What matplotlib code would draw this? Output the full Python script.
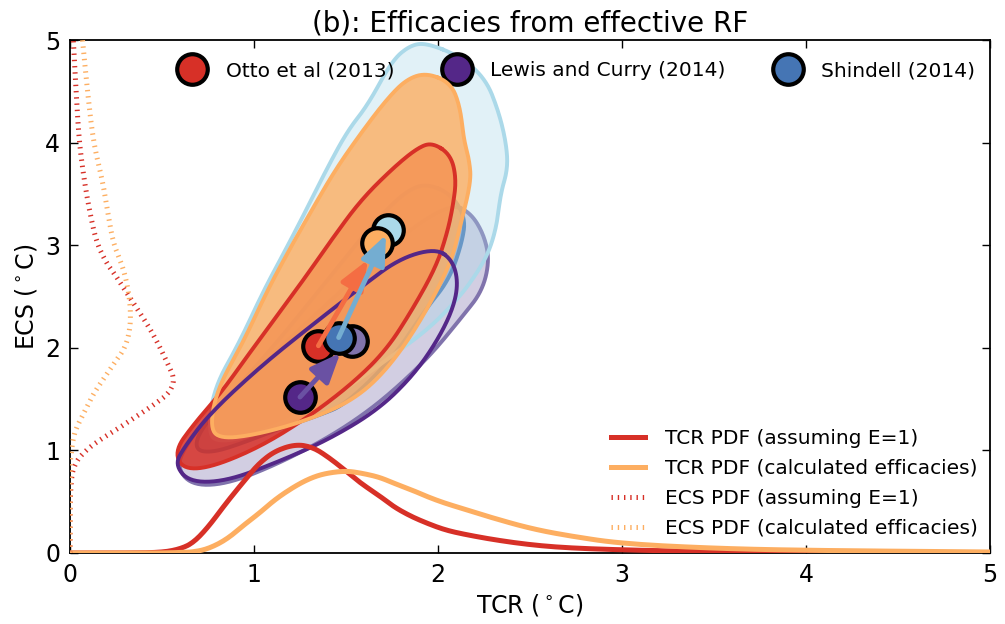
import numpy as np
import matplotlib
matplotlib.use("Agg")
from matplotlib import pyplot as plt
from matplotlib.lines import Line2D

plt.rcParams['lines.scale_dashes'] = False
plt.rcParams['font.family'] = ['DejaVu Sans']

# 66% region outlines, (TCR, ECS) pairs
otto_e1 = [(1.97, 4.0), (2.07, 3.88), (2.1, 3.64), (2.08, 3.37), (2.05, 3.12), (1.99, 2.79),
           (1.86, 2.37), (1.72, 1.98), (1.54, 1.66), (1.3, 1.33), (1.03, 1.03), (0.76, 0.83),
           (0.61, 0.82), (0.57, 1.0), (0.67, 1.25), (0.82, 1.56), (0.96, 1.91), (1.12, 2.3),
           (1.28, 2.69), (1.42, 3.05), (1.58, 3.44), (1.76, 3.76), (1.89, 3.95)]
otto_calc = [(1.94, 4.68), (2.07, 4.58), (2.12, 4.35), (2.14, 4.03), (2.17, 3.83), (2.18, 3.62),
             (2.12, 3.18), (2.07, 2.82), (1.9, 2.24), (1.72, 1.78), (1.54, 1.49), (1.3, 1.3),
             (1.03, 1.16), (0.82, 1.11), (0.76, 1.22), (0.8, 1.6), (0.94, 2.05), (1.07, 2.55),
             (1.19, 2.95), (1.31, 3.33), (1.44, 3.73), (1.58, 4.09), (1.72, 4.42), (1.83, 4.62)]
lewis_e1 = [(1.99, 2.97), (2.08, 2.85), (2.11, 2.63), (2.08, 2.37), (1.99, 2.05), (1.86, 1.72),
            (1.67, 1.39), (1.40, 1.10), (1.12, 0.88), (0.85, 0.70), (0.65, 0.69), (0.57, 0.86),
            (0.62, 1.03), (0.76, 1.36), (1.03, 1.81), (1.30, 2.20), (1.58, 2.59), (1.79, 2.87)]
lewis_calc = [(2.08, 3.40), (2.18, 3.31), (2.25, 3.1), (2.28, 2.85), (2.24, 2.55), (2.13, 2.3),
              (1.97, 1.95), (1.80, 1.65), (1.62, 1.38), (1.40, 1.12), (1.12, 0.86), (0.85, 0.67),
              (0.66, 0.66), (0.58, 0.84), (0.63, 1.05), (0.78, 1.4), (1.05, 1.85), (1.35, 2.35),
              (1.62, 2.8), (1.88, 3.2)]
shindell_e1 = [(1.94, 3.6), (2.07, 3.5), (2.15, 3.27), (2.13, 3.02), (2.06, 2.66), (1.93, 2.37),
               (1.76, 1.91), (1.5, 1.45), (1.35, 1.34), (1.15, 1.22), (0.95, 1.08), (0.78, 0.98),
               (0.68, 1.0), (0.7, 1.18), (0.86, 1.52), (1.1, 2.0), (1.35, 2.55), (1.55, 3.0),
               (1.72, 3.35), (1.84, 3.54)]
shindell_calc = [(1.94, 4.97), (2.12, 4.84), (2.26, 4.62), (2.33, 4.3), (2.37, 4.0), (2.38, 3.75),
                 (2.34, 3.5), (2.32, 3.2), (2.28, 2.95), (2.22, 2.75), (2.12, 2.5), (1.96, 2.2),
                 (1.75, 1.92), (1.5, 1.6), (1.25, 1.35), (1.0, 1.15), (0.82, 1.08), (0.75, 1.15),
                 (0.78, 1.6), (0.92, 2.05), (1.05, 2.55), (1.17, 2.95), (1.28, 3.33), (1.40, 3.76),
                 (1.51, 4.12), (1.62, 4.37), (1.75, 4.8), (1.85, 4.95)]

# best estimates
names = ['Otto et al (2013)', 'Lewis and Curry (2014)', 'Shindell (2014)']
tcr_e1 = [1.35, 1.25, 1.46]
ecs_e1 = [2.02, 1.52, 2.10]
tcr_calc = [1.67, 1.53, 1.73]
ecs_calc = [3.02, 2.07, 3.15]

# marginal PDFs
tcr_grid = [0, 0.3, 0.5, 0.6, 0.67, 0.75, 0.85, 0.95, 1.03, 1.12, 1.23, 1.32, 1.40, 1.50, 1.58,
            1.68, 1.76, 1.85, 1.94, 2.03, 2.12, 2.3, 2.5, 2.7, 3.0, 3.5, 4.0, 5.0]
tcr_pdf_e1 = [0, 0, 0.005, 0.04, 0.10, 0.25, 0.49, 0.71, 0.88, 1.0, 1.06, 1.03, 0.94, 0.80, 0.68,
              0.56, 0.45, 0.36, 0.29, 0.23, 0.19, 0.13, 0.08, 0.05, 0.03, 0.012, 0.005, 0.0]
tcr_pdf_calc = [0, 0, 0, 0.005, 0.01, 0.04, 0.13, 0.28, 0.39, 0.53, 0.66, 0.74, 0.78, 0.80, 0.78,
                0.74, 0.68, 0.62, 0.55, 0.49, 0.44, 0.34, 0.24, 0.17, 0.09, 0.045, 0.025, 0.01]
ecs_grid = [0, 0.5, 0.78, 0.87, 0.94, 1.02, 1.10, 1.2, 1.33, 1.45, 1.56, 1.69, 1.85, 2.0, 2.17,
            2.34, 2.53, 2.7, 2.82, 3.02, 3.3, 3.6, 4.0, 4.5, 5.0]
ecs_pdf_e1 = [0, 0, 0.01, 0.03, 0.054, 0.10, 0.16, 0.25, 0.36, 0.46, 0.54, 0.57, 0.53, 0.49, 0.44,
              0.38, 0.31, 0.25, 0.2, 0.145, 0.11, 0.08, 0.05, 0.033, 0.018]
ecs_pdf_calc = [0, 0, 0, 0, 0.005, 0.01, 0.016, 0.03, 0.065, 0.10, 0.13, 0.18, 0.24, 0.30, 0.325,
                0.33, 0.32, 0.30, 0.28, 0.235, 0.207, 0.18, 0.127, 0.095, 0.068]

red, orange = '#d73027', '#fdae61'
purple, lpurple = '#542788', '#8073ac'
blue, lblue = '#4575b4', '#abd9e9'
dots = (0, (1, 3.5))


def smooth(pts, n=4, closed=True):
    # chaikin corner cutting
    p = np.asarray(pts, float)
    for _ in range(n):
        if closed:
            q = np.roll(p, -1, axis=0)
            p = np.column_stack([0.75 * p + 0.25 * q, 0.25 * p + 0.75 * q]).reshape(-1, 2)
        else:
            a, b = p[:-1], p[1:]
            mid = np.column_stack([0.75 * a + 0.25 * b, 0.25 * a + 0.75 * b]).reshape(-1, 2)
            p = np.vstack([p[:1], mid, p[-1:]])
    if closed:
        p = np.vstack([p, p[:1]])
    return p


fig = plt.figure(figsize=(10.05, 6.24), dpi=100)
ax = fig.add_axes([70 / 1005, 71 / 624, 920 / 1005, 513 / 624])


def region(pts, col, alpha, lw, z, fill=True, line=True):
    s = smooth(pts)
    if fill:
        ax.fill(s[:, 0], s[:, 1], color=col, alpha=alpha, lw=0, zorder=z)
    if line:
        ax.plot(s[:, 0], s[:, 1], color=col, lw=lw, zorder=z + 0.1)


region(lewis_calc, lpurple, 0.35, 2.8, 1)
region(shindell_e1, blue, 0.4, 2.8, 2)
region(shindell_calc, lblue, 0.35, 2.8, 3)
region(otto_e1, red, 0.85, 2.8, 4, line=False)
region(otto_calc, orange, 0.8, 2.8, 5, line=False)
region(otto_e1, red, 0, 2.8, 6, fill=False)
region(otto_calc, orange, 0, 2.8, 6, fill=False)
region(lewis_e1, purple, 0, 2.8, 7, fill=False)

# PDFs
for xs, ys, c, ls in [(tcr_grid, tcr_pdf_e1, red, '-'), (tcr_grid, tcr_pdf_calc, orange, '-'),
                      (ecs_pdf_e1, ecs_grid, red, dots), (ecs_pdf_calc, ecs_grid, orange, dots)]:
    s = smooth(list(zip(xs, ys)), n=3, closed=False)
    ax.plot(s[:, 0], s[:, 1], color=c, lw=3.6, ls=ls, zorder=8)

# best estimate markers
e1_cols = [red, purple, blue]
calc_cols = [orange, lpurple, lblue]
mk = dict(ms=22, mec='k', mew=3, ls='')
for i in [0, 1]:
    ax.plot(tcr_e1[i], ecs_e1[i], 'o', mfc=e1_cols[i], zorder=10, **mk)
ax.plot(tcr_calc[1], ecs_calc[1], 'o', mfc=calc_cols[1], zorder=10, **mk)
ax.plot(tcr_e1[2], ecs_e1[2], 'o', mfc=e1_cols[2], zorder=10.5, **mk)
ax.plot(tcr_calc[2], ecs_calc[2], 'o', mfc=calc_cols[2], zorder=10, **mk)
ax.plot(tcr_calc[0], ecs_calc[0], 'o', mfc=calc_cols[0], zorder=10.5, **mk)

arrow_cols = ['#f46d43', '#6a51a3', '#74add1']
shrink = [14, 12, 4]
for i in [1, 0, 2]:
    ax.annotate('', xy=(tcr_calc[i], ecs_calc[i]), xytext=(tcr_e1[i], ecs_e1[i]),
                arrowprops=dict(arrowstyle='-|>,head_length=1.2,head_width=0.5',
                                mutation_scale=15, color=arrow_cols[i], lw=3.5,
                                shrinkA=0, shrinkB=shrink[i]),
                zorder=11)

h1 = [Line2D([], [], marker='o', mfc=c, **mk) for c in e1_cols]
leg1 = ax.legend(h1, names, loc='upper right', bbox_to_anchor=(1.0065, 1.0), ncol=3,
                 frameon=False, numpoints=1, fontsize=14.5, handletextpad=0.65,
                 columnspacing=2.1, borderaxespad=0.65)
ax.add_artist(leg1)

h2 = [Line2D([], [], color=red, lw=3.6), Line2D([], [], color=orange, lw=3.6),
      Line2D([], [], color=red, lw=3.6, ls=dots),
      Line2D([], [], color=orange, lw=3.6, ls=dots)]
labs2 = ['TCR PDF (assuming E=1)', 'TCR PDF (calculated efficacies)',
         'ECS PDF (assuming E=1)', 'ECS PDF (calculated efficacies)']
ax.legend(h2, labs2, loc='lower right', bbox_to_anchor=(1.003, 0.0), frameon=False,
          fontsize=14.5, handlelength=1.65, handletextpad=1.0, labelspacing=0.55,
          borderaxespad=0.35)

ax.set_xlim(0, 5)
ax.set_ylim(0, 5)
ax.set_xticks([0, 1, 2, 3, 4, 5])
ax.set_yticks([0, 1, 2, 3, 4, 5])
ax.tick_params(direction='in', top=True, right=True, length=6, width=1, labelsize=17, pad=7)
for s in ax.spines.values():
    s.set_linewidth(1.3)
ax.set_xlabel(r'TCR ($^\circ$C)', fontsize=17)
ax.set_ylabel(r'ECS ($^\circ$C)', fontsize=17)
ax.set_title('(b): Efficacies from effective RF', fontsize=20)

fig.savefig('out.png', dpi=100)
